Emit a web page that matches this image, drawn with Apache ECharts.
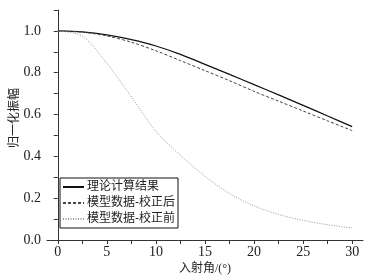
<!DOCTYPE html>
<html>
<head>
<meta charset="utf-8">
<script src="https://cdn.jsdelivr.net/npm/echarts@6/dist/echarts.min.js"></script>
<style>
  html, body { margin: 0; padding: 0; background: #ffffff; }
  #chart { width: 377px; height: 278px; }
</style>
</head>
<body>
<div id="chart"></div>
<script>
const angles = [0, 2.5, 5, 7.5, 10, 12.5, 15, 17.5, 20, 22.5, 25, 27.5, 30];
const theory = [1.0, 0.995, 0.981, 0.958, 0.928, 0.888, 0.84, 0.792, 0.743, 0.694, 0.644, 0.593, 0.542];
const corrected = [1.0, 0.994, 0.976, 0.946, 0.905, 0.858, 0.81, 0.762, 0.711, 0.664, 0.617, 0.57, 0.523];
const uncorrected = [1.0, 0.975, 0.845, 0.685, 0.52, 0.405, 0.305, 0.222, 0.163, 0.122, 0.094, 0.073, 0.058];

const xLabels = [0, 5, 10, 15, 20, 25, 30];
const xTicks = [0, 2.5, 5, 7.5, 10, 12.5, 15, 17.5, 20, 22.5, 25, 27.5, 30];
const yLabels = [0, 0.2, 0.4, 0.6, 0.8, 1.0];
const yTicks = [0, 0.1, 0.2, 0.3, 0.4, 0.5, 0.6, 0.7, 0.8, 0.9, 1.0, 1.1];

const names = ["理论计算结果", "模型数据-校正后", "模型数据-校正前"];

function pairs(values) {
  return angles.map((a, i) => [a, values[i]]);
}

const serif = "'Liberation Serif', 'Times New Roman', serif";
const cjk = "'Liberation Serif', 'Noto Sans CJK SC', serif";

const chart = echarts.init(document.getElementById("chart"), null, { renderer: "canvas" });

chart.setOption({
  animation: false,
  backgroundColor: "#ffffff",
  grid: { left: 47, right: 14, top: 10, bottom: 38, outerBoundsMode: "none", containLabel: false },
  legend: {
    left: 60,
    top: 178,
    orient: "vertical",
    itemWidth: 21,
    itemHeight: 12,
    itemGap: 4,
    padding: [3, 3, 3, 2],
    borderColor: "#111",
    borderWidth: 1,
    backgroundColor: "#ffffff",
    itemStyle: { opacity: 0 },
    textStyle: { fontFamily: cjk, fontSize: 12, color: "#222", padding: [0, 0, 0, -2] },
    data: names
  },
  xAxis: {
    type: "value",
    min: -1.1,
    max: 31.1,
    name: "入射角/(°)",
    nameLocation: "middle",
    nameGap: 23,
    nameMoveOverlap: false,
    nameTextStyle: { fontFamily: cjk, fontSize: 12, color: "#222" },
    axisLine: { show: true, lineStyle: { color: "#333", width: 1 } },
    axisTick: { show: true, length: 4, customValues: xTicks, lineStyle: { color: "#333" } },
    axisLabel: { customValues: xLabels, margin: 5, fontFamily: serif, fontSize: 14, color: "#222" },
    splitLine: { show: false }
  },
  yAxis: {
    type: "value",
    min: 0,
    max: 1.1,
    name: "归一化振幅",
    nameLocation: "middle",
    nameGap: 26,
    nameMoveOverlap: false,
    nameTextStyle: { fontFamily: cjk, fontSize: 12, color: "#222", padding: [0, 0, 0, 14] },
    axisLine: { show: true, lineStyle: { color: "#333", width: 1 } },
    axisTick: { show: true, length: 4, customValues: yTicks, lineStyle: { color: "#333" } },
    axisLabel: {
      customValues: yLabels,
      margin: 6,
      fontFamily: serif,
      fontSize: 14,
      color: "#222",
      formatter: (v) => v.toFixed(1)
    },
    splitLine: { show: false }
  },
  series: [
    {
      name: names[0],
      type: "line",
      smooth: 0.3,
      symbol: "none",
      lineStyle: { color: "#111", width: 1.2, type: "solid" },
      itemStyle: { color: "#111" },
      data: pairs(theory)
    },
    {
      name: names[1],
      type: "line",
      smooth: 0.3,
      symbol: "none",
      lineStyle: { color: "#444", width: 1, type: [3, 2] },
      itemStyle: { color: "#444" },
      data: pairs(corrected)
    },
    {
      name: names[2],
      type: "line",
      smooth: 0.3,
      symbol: "none",
      lineStyle: { color: "#999", width: 1, type: [1, 1.5] },
      itemStyle: { color: "#999" },
      data: pairs(uncorrected)
    }
  ]
});
</script>
</body>
</html>
